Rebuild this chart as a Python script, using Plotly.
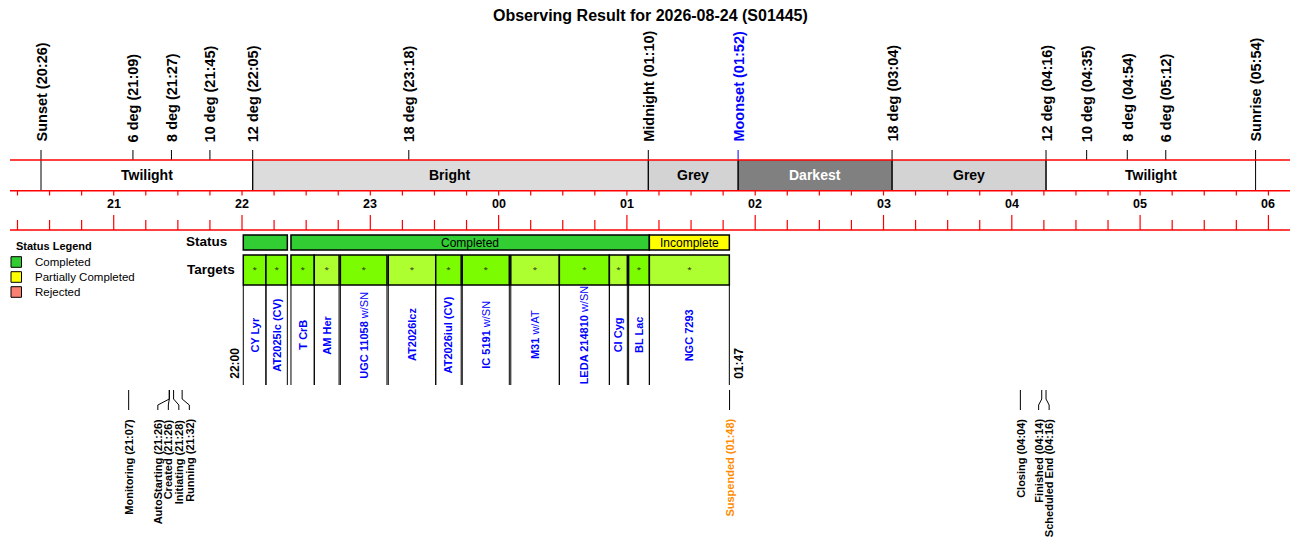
import plotly.graph_objects as go

# ---- data -------------------------------------------------------------
title_text = "Observing Result for 2026-08-24 (S01445)"

sky_events = ["Sunset", "6 deg", "8 deg", "10 deg", "12 deg", "18 deg", "Midnight",
              "Moonset", "18 deg", "12 deg", "10 deg", "8 deg", "6 deg", "Sunrise"]
sky_times = ["20:26", "21:09", "21:27", "21:45", "22:05", "23:18", "01:10",
             "01:52", "03:04", "04:16", "04:35", "04:54", "05:12", "05:54"]

band_names = ["Twilight", "Bright", "Grey", "Darkest", "Grey", "Twilight"]
band_starts = ["20:26", "22:05", "01:10", "01:52", "03:04", "04:16"]
band_ends = ["22:05", "01:10", "01:52", "03:04", "04:16", "05:54"]

hour_labels = ["21", "22", "23", "00", "01", "02", "03", "04", "05", "06"]

status_kinds = ["Completed", "Completed", "Incomplete"]
status_starts = ["22:00:36", "22:22:54", "01:10:30"]
status_ends = ["22:21:12", "01:10:30", "01:47:54"]

targets = ["CY Lyr", "AT2025lc (CV)", "T CrB", "AM Her", "UGC 11058 w/SN", "AT2026lcz",
           "AT2026iul (CV)", "IC 5191 w/SN", "M31 w/AT", "LEDA 214810 w/SN", "CI Cyg",
           "BL Lac", "NGC 7293"]
target_starts = ["22:00:36", "22:11:12", "22:22:54", "22:33:48", "22:46:00", "23:08:24",
                 "23:30:36", "23:43:00", "00:05:42", "00:28:24", "00:51:48", "01:00:48",
                 "01:10:30"]
target_ends = ["22:11:12", "22:21:12", "22:33:48", "22:45:24", "23:07:48", "23:30:36",
               "23:42:30", "00:05:00", "00:28:24", "00:51:48", "01:00:12", "01:10:30",
               "01:47:54"]
run_start_label = "22:00"
run_end_label = "01:47"

log_events = ["Monitoring", "AutoStarting", "Created", "Initiating", "Running",
              "Suspended", "Closing", "Finished", "Scheduled End"]
log_times = ["21:07", "21:26", "21:26", "21:28", "21:32", "01:48", "04:04", "04:14", "04:16"]

legend_items = ["Completed", "Partially Completed", "Rejected"]

# ---- styles -----------------------------------------------------------
FONT = "Liberation Sans, Arial, sans-serif"
band_fill = {"Twilight": "white", "Bright": "#dcdcdc", "Grey": "#d3d3d3", "Darkest": "#808080"}
status_fill = {"Completed": "#32cd32", "Incomplete": "#ffff00",
               "Partially Completed": "#ffff00", "Rejected": "#fa8072"}
target_colors = ["#7cfc00", "#7cfc00", "#7cfc00", "#adff2f", "#7cfc00", "#adff2f", "#7cfc00",
                 "#7cfc00", "#adff2f", "#7cfc00", "#adff2f", "#7cfc00", "#adff2f"]

T0, T1 = 20.1917, 30.1683          # visible time window (hours)
PPH = 1280 / (T1 - T0)             # pixels per hour


def hrs(s):
    p = [int(v) for v in s.split(":")]
    h = p[0] + p[1] / 60 + (p[2] / 3600 if len(p) > 2 else 0)
    return h + 24 if h < 12 else h


def px2t(px):
    return T0 + (px - 10) / PPH


shapes = []
ann = []


def line(x0, y0, x1, y1, color="black", width=1, xref="x"):
    shapes.append(dict(type="line", xref=xref, yref="y", x0=x0, x1=x1, y0=y0, y1=y1,
                       line=dict(color=color, width=width)))


def rect(x0, x1, y0, y1, fill, lw=1.5):
    shapes.append(dict(type="rect", xref="x", yref="y", x0=x0, x1=x1, y0=y0, y1=y1,
                       fillcolor=fill, line=dict(color="black", width=lw), layer="below"))


def text(x, y, s, size, color="black", bold=True, angle=0, xa="center", ya="middle"):
    ann.append(dict(x=x, y=y, xref="x", yref="y", text=s, showarrow=False, textangle=angle,
                    xanchor=xa, yanchor=ya,
                    font=dict(family=FONT, size=size, color=color,
                              weight="bold" if bold else "normal")))


# title
ann.append(dict(x=0.5, y=15, xref="paper", yref="y", text=title_text, showarrow=False,
                font=dict(family=FONT, size=16, color="black", weight="bold")))

# sky bands
for name, s, e in zip(band_names, band_starts, band_ends):
    shapes.append(dict(type="rect", xref="x", yref="y", x0=hrs(s), x1=hrs(e), y0=160, y1=190.7,
                       fillcolor=band_fill[name], line=dict(width=0), layer="below"))
    text((hrs(s) + hrs(e)) / 2, 175, name, 14, "white" if name == "Darkest" else "black")
    line(hrs(s), 160, hrs(s), 190.7)
    line(hrs(e), 160, hrs(e), 190.7)

# sky events above the band
for name, t in zip(sky_events, sky_times):
    col = "blue" if name == "Moonset" else "black"
    line(hrs(t), 150, hrs(t), 160, col)
    text(hrs(t), 144, f"{name} ({t})", 14.5, col, angle=-90, ya="bottom")

# red rules
for y in (160, 190.7, 230):
    line(0, y, 1, y, "red", 1.5, xref="paper")

# time ticks
q = int(T0 * 4) + 1
while q / 4 <= T1:
    t = q / 4
    line(t, 190.7, t, 195.5, "red", 1.2)
    line(t, 215 if q % 4 == 0 else 220, t, 230, "red", 1.2)
    q += 1
for lab in hour_labels:
    text(hrs(lab + ":00"), 204, lab, 12.5)

# status row
text(px2t(229), 241, "Status", 13.5, xa="right")
for kind, s, e in zip(status_kinds, status_starts, status_ends):
    rect(hrs(s), hrs(e), 235, 250, status_fill[kind])
    if (hrs(e) - hrs(s)) * PPH > 60:
        text((hrs(s) + hrs(e)) / 2, 242.5, kind, 12, bold=False)

# targets row
text(px2t(237), 269, "Targets", 13.5, xa="right")
dot_x = []
for name, s, e, c in zip(targets, target_starts, target_ends, target_colors):
    a, b = hrs(s), hrs(e)
    rect(a, b, 255, 285, c)
    line(a, 285, a, 385)
    line(b, 285, b, 385)
    dot_x.append((a + b) / 2)
    label = name.replace(" w/", ' <span style="font-weight:normal">w/') + \
        ("</span>" if " w/" in name else "")
    text((a + b) / 2, 335, label, 11, "blue", angle=-90)
text(hrs(target_starts[0]), 381, run_start_label, 12, angle=-90, xa="right", ya="bottom")
text(hrs(target_ends[-1]), 381, run_end_label, 12, angle=-90, xa="left", ya="bottom")

# status legend
text(px2t(14), 246, "Status Legend", 11, xa="left")
for i, item in enumerate(legend_items):
    y = 262 + 15 * i
    shapes.append(dict(type="rect", xref="x", yref="y", x0=px2t(11), x1=px2t(21.5),
                       y0=y - 5.3, y1=y + 5.3, fillcolor=status_fill[item],
                       line=dict(color="black", width=1)))
    text(px2t(33), y, item, 11.5, bold=False, xa="left")

# log events below, spread so the labels do not collide
gap = 10.5 / PPH
xs = [hrs(t) for t in log_times]
blocks = []
for i, x in enumerate(xs):
    blocks.append([i])
    while len(blocks) > 1:
        b2, b1 = blocks[-1], blocks[-2]
        c1 = sum(xs[k] for k in b1) / len(b1) + gap * (len(b1) - 1) / 2
        c2 = sum(xs[k] for k in b2) / len(b2) - gap * (len(b2) - 1) / 2
        if c2 - c1 < gap:
            blocks[-2] = b1 + b2
            blocks.pop()
        else:
            break
pos = [0] * len(xs)
for b in blocks:
    mid = sum(xs[k] for k in b) / len(b)
    for j, k in enumerate(b):
        pos[k] = mid + (j - (len(b) - 1) / 2) * gap

for name, t, x, p in zip(log_events, log_times, xs, pos):
    line(x, 390, x, 399)
    line(x, 399, p, 405)
    line(p, 405, p, 410)
    col = "#ff8c00" if name == "Suspended" else "black"
    text(p, 417, f"{name} ({t})", 11, col, angle=-90, ya="top")

fig = go.Figure()
fig.add_trace(go.Scatter(x=dot_x, y=[270] * len(dot_x), mode="text", text=["*"] * len(dot_x),
                         textfont=dict(size=8, color="#222222"), hoverinfo="skip",
                         showlegend=False))
fig.update_layout(
    width=1300, height=560,
    margin=dict(l=10, r=10, t=0, b=0),
    paper_bgcolor="white", plot_bgcolor="white",
    xaxis=dict(range=[T0, T1], visible=False, fixedrange=True),
    yaxis=dict(range=[560, 0], visible=False, fixedrange=True),
    shapes=shapes, annotations=ann, showlegend=False,
)
fig.write_html("out.html", config={"displayModeBar": False},
               post_script="document.body.style.margin='0';")
